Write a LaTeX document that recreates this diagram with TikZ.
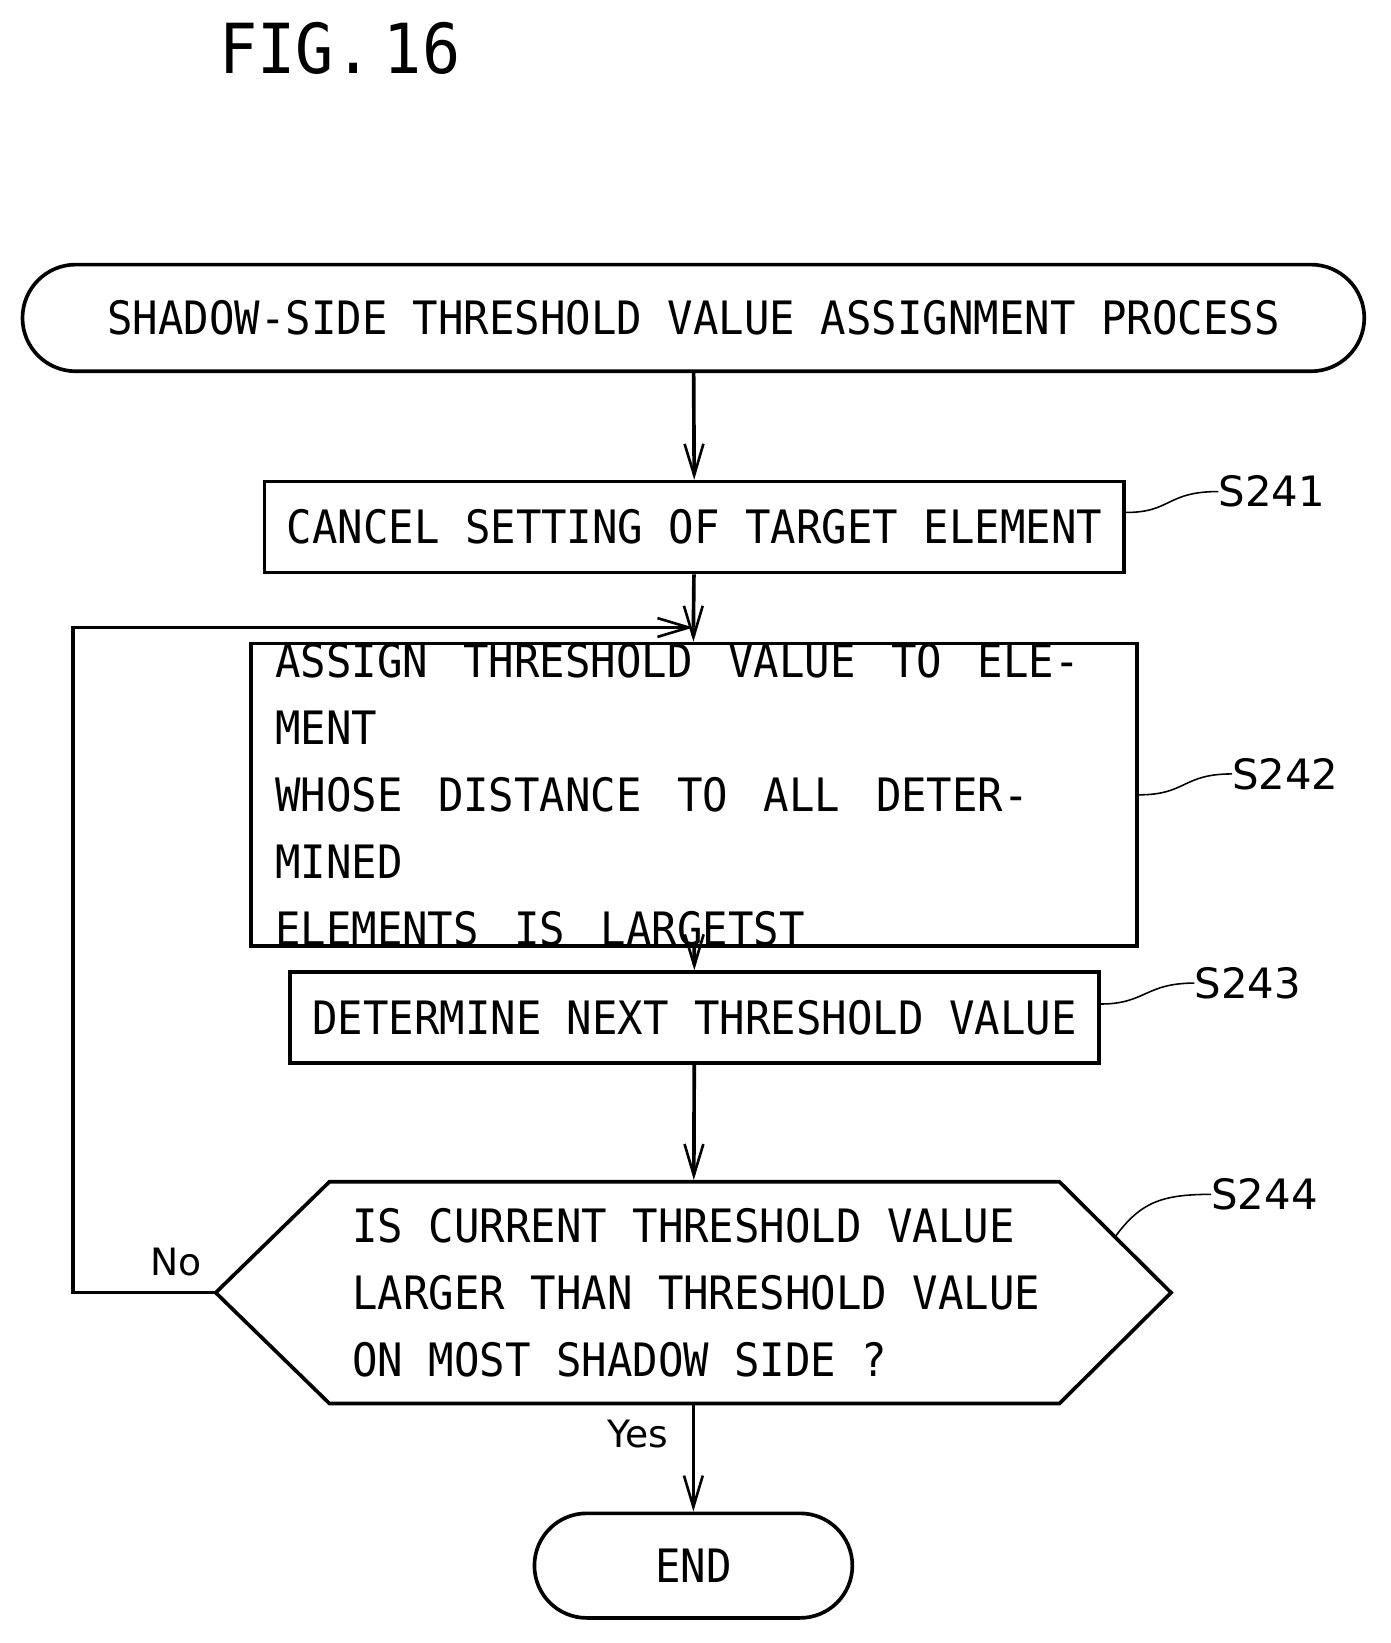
\documentclass[tikz,border=0pt]{standalone}
\usepackage{fontspec}
\usetikzlibrary{arrows.meta, positioning, shapes.misc}
\newfontfamily\gfont[FakeStretch=0.92]{DejaVu Sans Mono}
\newfontfamily\lfont{DejaVu Sans}

\begin{document}
\begin{tikzpicture}[x=1pt, y=-1pt]

    % Styles
    \tikzset{
        boxstyle/.style={rectangle, draw, line width=3.5pt, inner sep=0pt, font=\gfont\fontsize{44}{64}\selectfont},
        term/.style={boxstyle, rounded rectangle},
        arrow/.style={-{Straight Barb[length=30pt, width=18pt, line width=2.5pt]}, line width=3.5pt},
        lead/.style={line width=1.5pt},
        steplbl/.style={font=\lfont\fontsize{40}{42}\selectfont, inner sep=0pt},
        yn/.style={font=\lfont\fontsize{36}{40}\selectfont, inner sep=0pt}
    }

    \useasboundingbox (0,0) rectangle (1330,1571);

    \node[font=\gfont\fontsize{66}{70}\selectfont, inner sep=0pt] (fig) at (325,46) {FIG.\,16};

    % Boxes
    \node[term, minimum width=1283pt, minimum height=102pt] (start) at (663,304) {SHADOW-SIDE THRESHOLD VALUE ASSIGNMENT PROCESS};
    \node[boxstyle, minimum width=822pt, minimum height=87pt] (s241) at (664,504) {CANCEL SETTING OF TARGET ELEMENT};
    \node[boxstyle, minimum width=847pt, minimum height=213pt, align=left, text width=801pt] (s242) at (663.5,760) {\spaceskip=34pt ASSIGN THRESHOLD VALUE TO ELEMENT\\WHOSE DISTANCE TO ALL DETERMINED\\ELEMENTS IS LARGETST};
    \node[boxstyle, minimum width=774pt, minimum height=87pt] (s243) at (664,973) {DETERMINE NEXT THRESHOLD VALUE};
    % decision hexagon
    \node[boxstyle, draw=none, minimum width=910pt, minimum height=212pt] (s244) at (663,1236) {};
    \node[boxstyle, draw=none, align=left, anchor=west] (s244t) at (335,1236) {IS CURRENT THRESHOLD VALUE\\LARGER THAN THRESHOLD VALUE\\ON MOST SHADOW SIDE ?};
    \draw[line width=3.5pt, line join=miter] (s244.west) -- (315,1130) -- (1013,1130) -- (s244.east) -- (1013,1342) -- (315,1342) -- cycle;
    \node[term, minimum width=304pt, minimum height=100pt] (end) at (663,1497) {END};

    % Flow
    \coordinate (join) at (663,600);
    \coordinate (back) at (70,600);
    \draw[arrow] (start) -- (s241);
    \draw[line width=3.5pt] (s241) -- (join);
    \draw[arrow] (join) -- (s242);
    \draw[arrow] (s242) -- (s243);
    \draw[arrow] (s243) -- (s244);
    \draw[arrow] (s244) -- (end);
    \draw[arrow] (s244.west) -| (back) -- (join);
    \node[yn] at (168,1207) {No};
    \node[yn] at (610,1371) {Yes};

    % Step labels
    \node[steplbl, anchor=west] (l241) at (1165,470) {S241};
    \node[steplbl, anchor=west] (l242) at (1178,740) {S242};
    \node[steplbl, anchor=west] (l243) at (1142,940) {S243};
    \node[steplbl, anchor=west] (l244) at (1158,1142) {S244};
    \draw[lead] (s241.east |- 0,490) .. controls (1120,490) and (1115,470) .. (l241.west);
    \draw[lead] (s242.east) .. controls (1135,760) and (1130,740) .. (l242.west);
    \draw[lead] (s243.east |- 0,960) .. controls (1095,960) and (1095,940) .. (l243.west);
    \draw[lead] (1066,1183) .. controls (1090,1150) and (1110,1142) .. (l244.west);

\end{tikzpicture}
\end{document}
